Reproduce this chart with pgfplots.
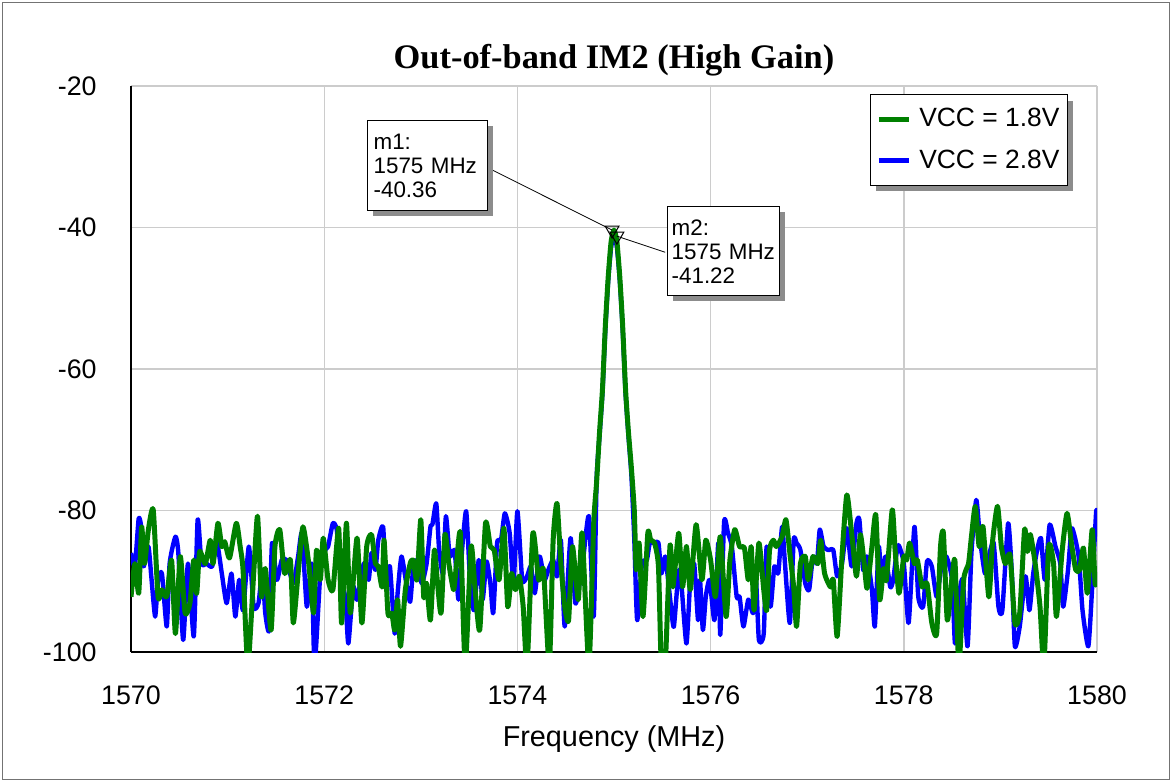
\documentclass[border=0pt]{standalone}
\usepackage{pgfplots}
\pgfplotsset{compat=1.18}
\usepackage{pgfplotstable}
\usepackage{fontspec}
\setmainfont{Liberation Sans}
\newfontfamily\titlefont{Liberation Serif}
\usetikzlibrary{shadows}
\definecolor{trgreen}{RGB}{0,128,0}
\definecolor{trblue}{RGB}{0,0,255}
\makeatletter
\tikzset{no preactions/.code={\let\tikz@preactions\pgfutil@empty}}
\makeatother

\pgfplotstableread{
f v
1570.00 -92.2
1570.04 -87.5
1570.08 -91.7
1570.11 -82.3
1570.14 -87.5
1570.18 -82.7
1570.23 -79.9
1570.28 -92.2
1570.32 -91.2
1570.37 -92.2
1570.42 -87.0
1570.46 -97.4
1570.51 -86.5
1570.56 -94.5
1570.61 -93.1
1570.65 -87.0
1570.68 -91.7
1570.71 -85.8
1570.77 -87.5
1570.82 -84.2
1570.85 -87.5
1570.90 -81.8
1570.94 -85.1
1570.97 -84.4
1571.02 -86.7
1571.09 -81.8
1571.13 -85.1
1571.16 -88.4
1571.21 -102
1571.27 -88.9
1571.31 -80.8
1571.35 -92.2
1571.39 -88.2
1571.45 -96.9
1571.49 -85.1
1571.54 -82.7
1571.59 -88.9
1571.65 -87.0
1571.68 -95.9
1571.73 -88.9
1571.78 -82.3
1571.84 -87.5
1571.89 -94.5
1571.92 -85.6
1571.96 -89.8
1571.99 -83.9
1572.04 -89.8
1572.09 -91.2
1572.15 -82.5
1572.18 -95.9
1572.23 -81.8
1572.27 -94.5
1572.34 -83.9
1572.39 -95.9
1572.44 -85.1
1572.49 -83.4
1572.53 -87.5
1572.56 -87.9
1572.60 -90.8
1572.62 -84.2
1572.66 -94.5
1572.70 -94.5
1572.73 -96.9
1572.76 -92.6
1572.79 -99.2
1572.84 -91.2
1572.89 -87.5
1572.92 -87.0
1572.96 -89.8
1573.00 -81.3
1573.03 -92.2
1573.06 -90.3
1573.10 -95.5
1573.14 -85.6
1573.17 -89.8
1573.21 -94.5
1573.25 -83.4
1573.29 -87.5
1573.34 -91.2
1573.37 -87.5
1573.41 -83.2
1573.46 -102
1573.52 -85.1
1573.56 -90.8
1573.61 -96.9
1573.67 -81.8
1573.72 -85.1
1573.76 -85.6
1573.81 -89.8
1573.86 -82.5
1573.90 -93.6
1573.94 -88.9
1573.98 -91.2
1574.02 -89.3
1574.06 -93.6
1574.10 -102
1574.16 -83.2
1574.22 -89.8
1574.27 -88.4
1574.33 -102
1574.37 -84.2
1574.41 -79.0
1574.45 -87.5
1574.49 -93.6
1574.53 -95.5
1574.57 -85.1
1574.63 -92.6
1574.67 -83.2
1574.74 -102
1574.79 -81.8
1574.82 -76.0
1574.85 -69.0
1574.88 -63.0
1574.91 -54.0
1574.94 -47.0
1574.97 -42.0
1575.00 -40.36
1575.03 -42.0
1575.06 -47.0
1575.09 -54.0
1575.12 -63.0
1575.15 -69.0
1575.18 -74.0
1575.21 -80.0
1575.23 -88.4
1575.26 -84.6
1575.30 -95.0
1575.35 -83.2
1575.38 -84.2
1575.42 -84.6
1575.46 -87.9
1575.49 -102
1575.53 -102
1575.58 -84.9
1575.61 -90.8
1575.67 -83.2
1575.71 -90.8
1575.75 -85.1
1575.79 -91.2
1575.85 -82.0
1575.91 -89.8
1575.95 -84.2
1576.00 -87.0
1576.05 -92.2
1576.10 -83.7
1576.16 -95.0
1576.20 -87.0
1576.25 -82.7
1576.30 -85.1
1576.35 -85.3
1576.39 -89.8
1576.42 -85.1
1576.45 -94.1
1576.50 -84.6
1576.55 -91.2
1576.58 -94.1
1576.61 -85.6
1576.65 -84.2
1576.68 -85.1
1576.74 -83.7
1576.78 -81.3
1576.82 -86.0
1576.86 -90.8
1576.89 -96.4
1576.93 -87.5
1576.98 -86.5
1577.01 -89.8
1577.06 -86.5
1577.11 -87.5
1577.14 -84.2
1577.18 -88.9
1577.24 -90.8
1577.27 -89.8
1577.31 -97.8
1577.36 -86.5
1577.41 -77.8
1577.46 -83.2
1577.51 -89.3
1577.55 -83.4
1577.59 -87.5
1577.62 -91.0
1577.67 -85.1
1577.71 -80.6
1577.75 -92.6
1577.79 -88.2
1577.82 -89.8
1577.88 -79.9
1577.91 -85.6
1577.95 -91.7
1578.00 -86.5
1578.03 -87.0
1578.06 -84.6
1578.11 -87.5
1578.14 -87.0
1578.19 -90.8
1578.24 -90.3
1578.29 -95.9
1578.34 -97.4
1578.38 -85.1
1578.41 -83.2
1578.45 -95.5
1578.50 -89.3
1578.53 -87.2
1578.57 -102
1578.62 -89.8
1578.67 -87.5
1578.70 -83.7
1578.74 -79.4
1578.78 -85.1
1578.82 -82.3
1578.88 -92.2
1578.92 -84.2
1578.97 -79.4
1579.01 -85.1
1579.05 -87.5
1579.10 -86.3
1579.15 -95.9
1579.20 -94.5
1579.25 -82.7
1579.28 -85.8
1579.31 -83.4
1579.36 -87.5
1579.41 -93.6
1579.45 -102
1579.50 -85.1
1579.55 -87.5
1579.58 -95.0
1579.64 -85.6
1579.69 -80.4
1579.74 -85.1
1579.78 -88.4
1579.82 -88.4
1579.86 -85.3
1579.90 -91.7
1579.95 -82.7
1579.98 -90.3
1580.00 -90.0
}\greendata

\pgfplotstableread{
f v
1570.00 -86.0
1570.04 -87.9
1570.08 -81.1
1570.11 -82.7
1570.13 -87.9
1570.18 -85.1
1570.21 -89.3
1570.25 -95.0
1570.28 -89.8
1570.32 -88.9
1570.37 -96.4
1570.40 -87.5
1570.46 -83.7
1570.49 -86.0
1570.54 -98.3
1570.59 -87.5
1570.65 -97.8
1570.69 -81.3
1570.73 -87.5
1570.78 -87.5
1570.84 -87.9
1570.89 -84.6
1570.94 -88.9
1570.99 -93.1
1571.04 -88.9
1571.08 -95.0
1571.12 -89.8
1571.16 -94.1
1571.22 -85.1
1571.27 -93.6
1571.32 -93.1
1571.36 -88.4
1571.39 -94.5
1571.43 -96.9
1571.46 -84.6
1571.51 -89.8
1571.56 -87.0
1571.61 -87.0
1571.68 -90.3
1571.73 -86.5
1571.77 -83.2
1571.82 -93.6
1571.87 -87.5
1571.90 -102
1571.96 -88.9
1572.01 -85.6
1572.04 -85.1
1572.09 -81.8
1572.13 -82.7
1572.16 -87.9
1572.22 -92.6
1572.25 -98.8
1572.30 -90.8
1572.34 -92.6
1572.41 -87.5
1572.46 -89.8
1572.49 -86.0
1572.53 -88.4
1572.56 -84.2
1572.61 -82.3
1572.64 -90.8
1572.68 -87.9
1572.73 -97.4
1572.76 -91.7
1572.80 -86.5
1572.85 -90.3
1572.89 -92.9
1572.92 -88.4
1572.96 -87.0
1573.01 -90.3
1573.06 -87.5
1573.10 -82.3
1573.12 -82.0
1573.16 -79.0
1573.19 -85.6
1573.23 -88.9
1573.26 -80.8
1573.30 -86.5
1573.35 -85.6
1573.39 -92.6
1573.43 -85.1
1573.47 -80.1
1573.51 -89.8
1573.55 -94.1
1573.60 -87.0
1573.64 -92.6
1573.68 -87.2
1573.72 -90.3
1573.75 -94.5
1573.79 -84.6
1573.83 -84.2
1573.87 -80.4
1573.92 -83.2
1573.96 -90.3
1574.00 -80.1
1574.05 -89.8
1574.10 -89.3
1574.14 -87.9
1574.18 -91.7
1574.23 -86.5
1574.28 -89.8
1574.32 -88.4
1574.37 -87.0
1574.41 -89.3
1574.45 -84.2
1574.49 -96.4
1574.55 -83.9
1574.60 -93.1
1574.65 -89.8
1574.68 -87.0
1574.74 -80.8
1574.79 -95.0
1574.82 -75.6
1574.85 -69.5
1574.88 -63.5
1574.91 -54.5
1574.94 -47.5
1574.97 -42.8
1575.00 -41.22
1575.03 -42.8
1575.06 -47.5
1575.09 -54.5
1575.12 -63.5
1575.15 -69.5
1575.18 -75.0
1575.21 -84.0
1575.24 -95.5
1575.29 -87.5
1575.34 -87.0
1575.37 -84.6
1575.41 -84.6
1575.46 -84.6
1575.49 -88.9
1575.53 -86.5
1575.56 -89.8
1575.59 -93.6
1575.62 -96.4
1575.67 -88.4
1575.70 -90.8
1575.75 -98.8
1575.79 -89.8
1575.83 -87.5
1575.87 -95.5
1575.89 -89.8
1575.92 -96.9
1575.95 -92.2
1575.99 -89.8
1576.04 -95.5
1576.08 -84.6
1576.10 -97.6
1576.14 -81.6
1576.18 -83.2
1576.22 -85.1
1576.27 -92.2
1576.30 -92.2
1576.34 -96.4
1576.39 -92.6
1576.44 -94.5
1576.47 -89.8
1576.50 -98.3
1576.55 -97.4
1576.58 -85.1
1576.62 -93.6
1576.66 -87.9
1576.70 -88.9
1576.74 -82.3
1576.77 -87.5
1576.82 -95.9
1576.86 -84.2
1576.89 -84.6
1576.93 -85.6
1576.98 -90.3
1577.02 -91.2
1577.06 -86.5
1577.10 -87.5
1577.13 -82.7
1577.17 -85.1
1577.22 -85.6
1577.27 -85.6
1577.31 -89.3
1577.36 -87.5
1577.41 -82.5
1577.46 -87.9
1577.51 -81.8
1577.54 -81.3
1577.58 -88.4
1577.62 -86.5
1577.67 -91.2
1577.70 -96.4
1577.74 -85.1
1577.77 -89.8
1577.81 -86.5
1577.86 -90.8
1577.89 -89.8
1577.94 -84.9
1578.00 -87.5
1578.05 -95.9
1578.11 -82.3
1578.15 -92.2
1578.20 -93.6
1578.24 -87.2
1578.29 -87.9
1578.34 -92.2
1578.39 -87.9
1578.44 -86.5
1578.50 -89.8
1578.53 -98.8
1578.57 -92.2
1578.61 -89.8
1578.66 -99.2
1578.70 -86.0
1578.75 -78.5
1578.79 -84.2
1578.84 -88.9
1578.88 -86.5
1578.93 -84.6
1578.98 -93.6
1579.02 -94.1
1579.08 -81.8
1579.12 -89.3
1579.15 -99.2
1579.20 -96.4
1579.26 -89.3
1579.30 -94.1
1579.34 -88.9
1579.38 -85.6
1579.42 -83.9
1579.46 -89.8
1579.51 -82.0
1579.57 -85.1
1579.62 -87.5
1579.65 -93.6
1579.70 -88.4
1579.74 -82.5
1579.81 -86.5
1579.85 -94.1
1579.91 -99.2
1579.95 -90.8
1579.99 -80.4
1580.00 -80.2
}\bluedata

\begin{document}
\begin{tikzpicture}
\path[use as bounding box] (0,0) rectangle (586pt,391pt);
\draw[black!55, line width=0.6pt] (1.2pt,1.2pt) rectangle (584.8pt,389.8pt);
\begin{axis}[
  at={(65.5pt,65pt)}, anchor=south west,
  scale only axis, width=483pt, height=283pt,
  xmin=1570, xmax=1580, ymin=-100, ymax=-20,
  xtick={1570,1572,1574,1576,1578,1580},
  xticklabels={1570,1572,1574,1576,1578,1580},
  ytick={-100,-80,-60,-40,-20},
  yticklabels={-100,-80,-60,-40,-20},
  grid=major, major grid style={line width=0.7pt, color=black!20},
  major tick length=0pt,
  axis x line*=bottom, axis y line*=left,
  axis line style={-, line width=1pt, black},
  tick label style={font=\fontsize{13.4}{15}\selectfont, inner sep=0pt},
  xticklabel style={anchor=base, yshift=-26pt},
  yticklabel style={anchor=east, xshift=-17pt},
  title={Out-of-band IM2 (High Gain)},
  title style={font=\titlefont\bfseries\fontsize{17.2}{20}\selectfont, at={(axis description cs:0.5,1)}, anchor=base, yshift=3pt},
  xlabel={Frequency (MHz)},
  xlabel style={font=\fontsize{14.4}{16}\selectfont, at={(axis description cs:0.5,0)}, anchor=base, yshift=-47pt},
  legend style={at={(axis description cs:0.970,0.986)}, anchor=north east, draw=black, line width=0.6pt, fill=white,
    font=\fontsize{13.2}{15}\selectfont, inner xsep=3pt, inner ysep=5pt, row sep=6pt,
    nodes={inner xsep=1pt, inner ysep=2pt},
    cells={anchor=west},
    /tikz/every odd column/.style={column sep=3pt},
    drop shadow={shadow xshift=3pt, shadow yshift=-3pt, fill=black!45, opacity=1}},
  legend image code/.code={\draw[no preactions, #1, line width=2.5pt] (0pt,0pt) -- (15pt,0pt);},
]
\addlegendimage{trgreen}\addlegendentry{VCC = 1.8V}
\addlegendimage{trblue}\addlegendentry{VCC = 2.8V}
\addplot[trblue, line width=2.2pt, line join=round, smooth, tension=0.35, forget plot] table[x=f,y=v]{\bluedata};
\addplot[trgreen, line width=2.5pt, line join=round, smooth, tension=0.35, forget plot] table[x=f,y=v]{\greendata};
\addplot[only marks, mark=triangle, mark size=4pt, mark options={rotate=180, draw=black, line width=0.5pt, fill=none}, forget plot] coordinates {(1574.98,-40.36) (1575.03,-41.22)};
\draw[black, line width=0.4pt] (axis cs:1573.70,-31.6) -- (axis cs:1574.98,-40.36);
\draw[black, line width=0.4pt] (axis cs:1575.53,-43.5) -- (axis cs:1575.03,-41.22);
\node[draw=black, line width=0.6pt, fill=white, drop shadow={shadow xshift=2.5pt, shadow yshift=-2.5pt, fill=black!45, opacity=1},
  anchor=north west, align=left, text width=54pt, inner xsep=3pt, minimum height=45pt,
  font=\fontsize{11.2}{12}\selectfont] at (axis cs:1572.443,-24.8) {m1:\\1575 MHz\\-40.36};
\node[draw=black, line width=0.6pt, fill=white, drop shadow={shadow xshift=2.5pt, shadow yshift=-2.5pt, fill=black!45, opacity=1},
  anchor=north west, align=left, text width=52pt, inner xsep=2pt, minimum height=44.5pt,
  font=\fontsize{11.2}{12}\selectfont] at (axis cs:1575.549,-37.0) {m2:\\1575 MHz\\-41.22};
\end{axis}
\end{tikzpicture}
\end{document}
